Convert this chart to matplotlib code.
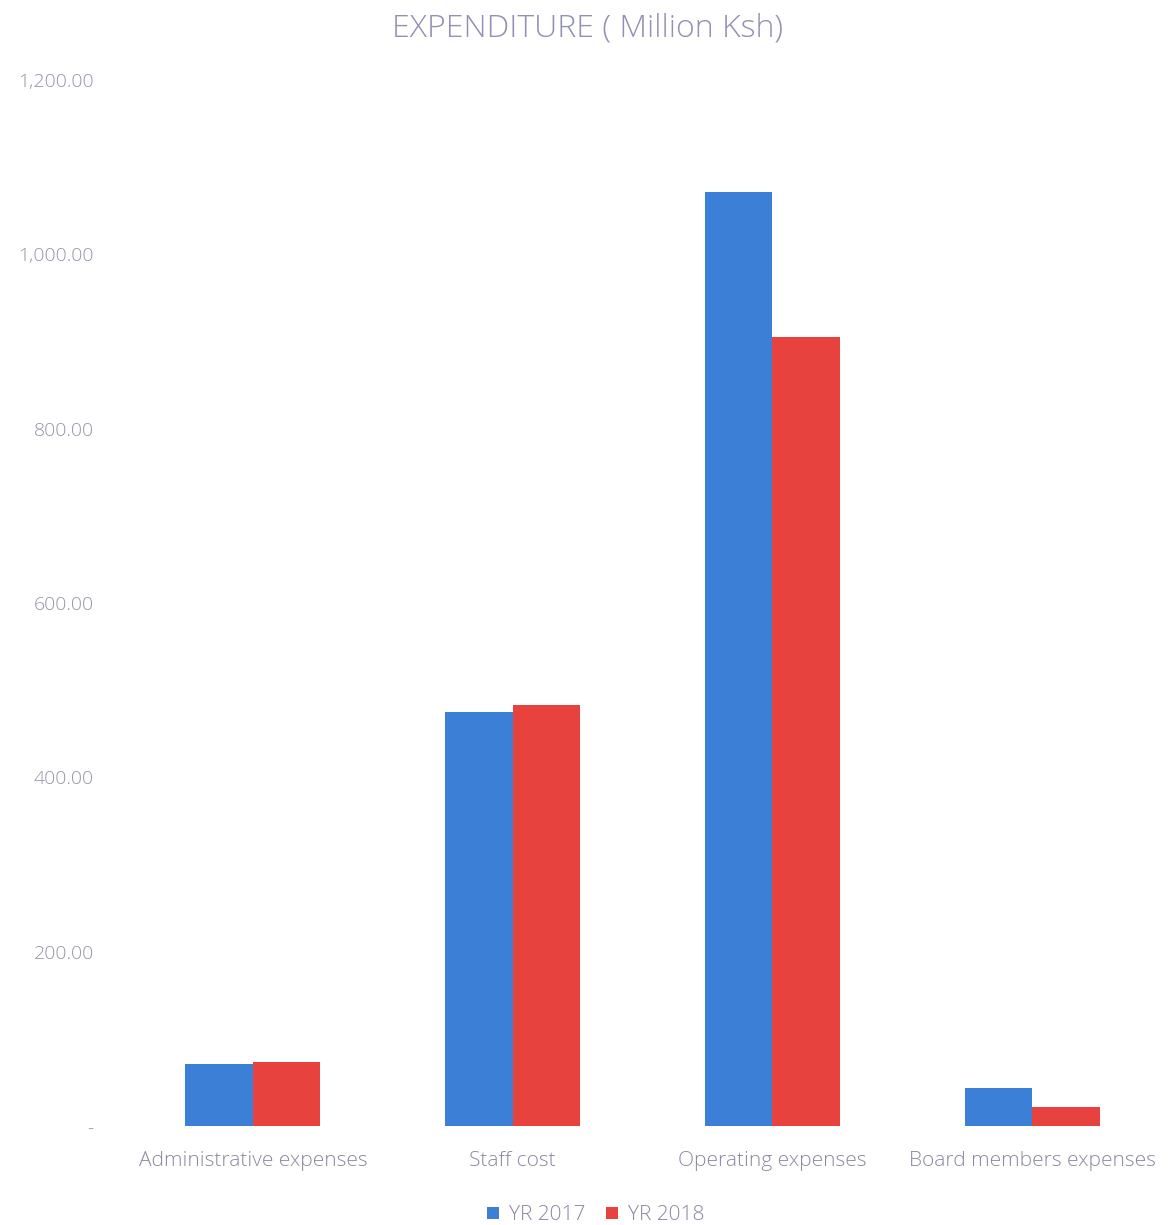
import numpy as np
import matplotlib.pyplot as plt
from matplotlib.ticker import FuncFormatter

categories = ["Administrative expenses", "Staff cost", "Operating expenses", "Board members expenses"]
yr_2017 = [71, 475, 1072, 44]
yr_2018 = [73, 483, 905, 22]
series_names = ["YR 2017", "YR 2018"]

plt.rcParams['font.family'] = ['Open Sans', 'DejaVu Sans']

fig = plt.figure(figsize=(11.75, 12.25), dpi=100)
ax = fig.add_axes([0.1047, 0.0808, 0.8843, 0.8539])

x = np.arange(len(categories))
w = 0.26
ax.bar(x - w / 2, yr_2017, w, color="#3b7fd6", label=series_names[0])
ax.bar(x + w / 2, yr_2018, w, color="#e8423f", label=series_names[1])

ax.set_xlim(-0.5, len(categories) - 0.5)
ax.set_ylim(0, 1200)
ax.set_yticks(np.arange(0, 1201, 200))

def fmt(v, pos):
    if v == 0:
        return "-"
    return f"{v:,.2f}"

ax.yaxis.set_major_formatter(FuncFormatter(fmt))
ax.set_xticks(x)
ax.set_xticklabels(categories)
ax.tick_params(axis='y', length=0, pad=21, labelsize=14, labelcolor="#9494a6")
ax.tick_params(axis='x', length=0, pad=18, labelsize=15, labelcolor="#8a88a2")
for lab in ax.get_xticklabels() + ax.get_yticklabels():
    lab.set_fontweight("light")
for s in ax.spines.values():
    s.set_visible(False)

fig.suptitle("EXPENDITURE ( Million Ksh)", y=0.99, fontsize=23, color="#9290b4",
             fontweight="light")

leg = ax.legend(loc="upper center", bbox_to_anchor=(0.455, -0.058), ncol=2, frameon=False,
                fontsize=15, handlelength=0.55, handleheight=0.55, handletextpad=0.5,
                columnspacing=1.0, labelcolor="#8a88a2")
for t in leg.get_texts():
    t.set_fontweight("light")

plt.savefig("out.png", dpi=100)
